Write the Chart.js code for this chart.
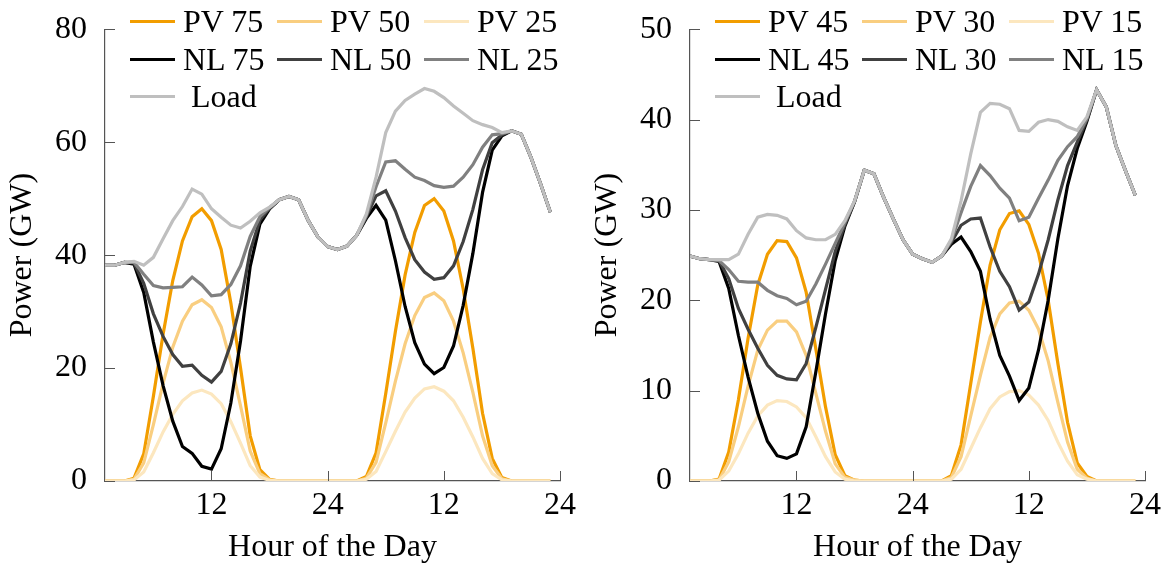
<!DOCTYPE html>
<html>
<head>
<meta charset="utf-8">
<script src="https://cdn.jsdelivr.net/npm/chart.js@4.4.1/dist/chart.umd.min.js"></script>
<style>
  body { margin: 0; background: #fff; width: 1170px; height: 567px; overflow: hidden; font-family: 'Liberation Serif', serif; }
  .panel { position: absolute; top: 0; width: 585px; height: 567px; }
  .panel canvas { position: absolute; left: 0; top: 0; }
  .legend { position: absolute; left: 130px; top: 3px; display: grid; grid-template-columns: repeat(3, 147px); grid-auto-rows: 37.5px; }
  .item { display: flex; align-items: center; font-size: 32px; color: #000; white-space: pre; }
  .swatch { width: 45px; height: 3px; margin-right: 8px; flex: none; }
</style>
</head>
<body>
<div class="panel" style="left:0">
  <canvas id="left" width="585" height="567"></canvas>
  <div class="legend" id="leftLegend"></div>
</div>
<div class="panel" style="left:585px">
  <canvas id="right" width="585" height="567"></canvas>
  <div class="legend" id="rightLegend"></div>
</div>
<script>
// hour index shared by both panels (two days)
const hours = [1, 2, 3, 4, 5, 6, 7, 8, 9, 10, 11, 12, 13, 14, 15, 16, 17, 18, 19, 20, 21, 22, 23, 24,
    25, 26, 27, 28, 29, 30, 31, 32, 33, 34, 35, 36, 37, 38, 39, 40, 41, 42, 43, 44, 45, 46, 47];
const xTickValues = [12, 24, 36, 48];
const xTickLabels = ['12', '24', '12', '24'];

// left panel (GW)
const loadL = [38.2, 38.2, 38.7, 38.9, 38.2, 39.6, 42.9, 46.1, 48.6, 51.7, 50.8, 48.2, 46.7, 45.3, 44.8, 46.0, 47.5, 48.5, 49.8, 50.4,
    49.8, 46.1, 43.2, 41.5, 41.0, 41.6, 43.5, 47.3, 53.8, 61.7, 65.5, 67.4, 68.5, 69.5, 69.0, 67.9, 66.4, 65.1, 63.8, 63.1,
    62.6, 61.7, 62.0, 61.4, 57.3, 52.6, 47.6];
const pv75L = [0, 0, 0, 0.5, 4.8, 15, 26, 35.5, 42.5, 46.8, 48.2, 46.1, 41, 31.5, 20, 8, 2, 0.3, 0, 0,
    0, 0, 0, 0, 0, 0, 0, 0.8, 5, 15.5, 26.5, 36.5, 44, 48.8, 50, 47.8, 42.5, 34, 23.5, 12,
    4, 0.6, 0, 0, 0, 0, 0];
const pv50L = [0, 0, 0, 0.3, 3.2, 10, 17.3, 23.7, 28.3, 31.2, 32.1, 30.7, 27.3, 21, 13.3, 5.3, 1.3, 0.2, 0, 0,
    0, 0, 0, 0, 0, 0, 0, 0.5, 3.3, 10.3, 17.7, 24.3, 29.3, 32.5, 33.3, 31.9, 28.3, 22.7, 15.7, 8,
    2.7, 0.4, 0, 0, 0, 0, 0];
const pv25L = [0, 0, 0, 0.2, 1.6, 5, 8.7, 11.8, 14.2, 15.6, 16.1, 15.4, 13.7, 10.5, 6.7, 2.7, 0.7, 0.1, 0, 0,
    0, 0, 0, 0, 0, 0, 0, 0.3, 1.7, 5.2, 8.8, 12.2, 14.7, 16.3, 16.7, 15.9, 14.2, 11.3, 7.8, 4,
    1.3, 0.2, 0, 0, 0, 0, 0];
const nl75L = [38.2, 38.2, 38.7, 38.4, 33.4, 24.6, 16.9, 10.6, 6.1, 4.9, 2.6, 2.1, 5.7, 13.8, 24.8, 38.0, 45.5, 48.2, 49.8, 50.4,
    49.8, 46.1, 43.2, 41.5, 41.0, 41.6, 43.5, 46.5, 48.8, 46.2, 39.0, 30.9, 24.5, 20.7, 19.0, 20.1, 23.9, 31.1, 40.3, 51.1,
    58.6, 61.1, 62.0, 61.4, 57.3, 52.6, 47.6];
const nl50L = [38.2, 38.2, 38.7, 38.6, 35.0, 29.6, 25.6, 22.4, 20.3, 20.5, 18.7, 17.5, 19.4, 24.3, 31.5, 40.7, 46.2, 48.3, 49.8, 50.4,
    49.8, 46.1, 43.2, 41.5, 41.0, 41.6, 43.5, 46.8, 50.5, 51.4, 47.8, 43.1, 39.2, 37.0, 35.7, 36.0, 38.1, 42.4, 48.1, 55.1,
    59.9, 61.3, 62.0, 61.4, 57.3, 52.6, 47.6];
const nl25L = [38.2, 38.2, 38.7, 38.7, 36.6, 34.6, 34.2, 34.3, 34.4, 36.1, 34.7, 32.8, 33.0, 34.8, 38.1, 43.3, 46.8, 48.4, 49.8, 50.4,
    49.8, 46.1, 43.2, 41.5, 41.0, 41.6, 43.5, 47.0, 52.1, 56.5, 56.7, 55.2, 53.8, 53.2, 52.3, 52.0, 52.2, 53.8, 56.0, 59.1,
    61.3, 61.5, 62.0, 61.4, 57.3, 52.6, 47.6];

// right panel (GW)
const loadR = [24.9, 24.6, 24.5, 24.5, 24.5, 25.1, 27.3, 29.2, 29.5, 29.4, 29.0, 27.7, 26.9, 26.7, 26.7, 27.3, 28.8, 31.0, 34.4, 34.0,
    31.4, 29.0, 26.7, 25.1, 24.6, 24.2, 24.9, 26.8, 31.0, 36.2, 40.8, 41.8, 41.7, 41.2, 38.8, 38.7, 39.7, 40.0, 39.8, 39.2,
    38.8, 40.3, 43.3, 41.4, 37.1, 34.3, 31.6];
const pv45R = [0, 0, 0, 0.2, 3.2, 9, 15.8, 21.7, 25.1, 26.6, 26.5, 24.7, 20.9, 14.6, 8.2, 2.9, 0.6, 0.1, 0, 0,
    0, 0, 0, 0, 0, 0, 0, 0.6, 4, 10.8, 17.6, 23.9, 27.8, 29.6, 29.9, 28.4, 25.2, 20, 13, 6.5,
    2, 0.5, 0, 0, 0, 0, 0];
const pv30R = [0, 0, 0, 0.1, 2.1, 6, 10.5, 14.5, 16.7, 17.7, 17.7, 16.5, 13.9, 9.7, 5.5, 1.9, 0.4, 0.1, 0, 0,
    0, 0, 0, 0, 0, 0, 0, 0.4, 2.7, 7.2, 11.7, 15.9, 18.5, 19.7, 19.9, 18.9, 16.8, 13.3, 8.7, 4.3,
    1.3, 0.3, 0, 0, 0, 0, 0];
const pv15R = [0, 0, 0, 0.1, 1.1, 3, 5.3, 7.2, 8.4, 8.9, 8.8, 8.2, 7, 4.9, 2.7, 1, 0.2, 0, 0, 0,
    0, 0, 0, 0, 0, 0, 0, 0.2, 1.3, 3.6, 5.9, 8, 9.3, 9.9, 10, 9.5, 8.4, 6.7, 4.3, 2.2,
    0.7, 0.2, 0, 0, 0, 0, 0];
const nl45R = [24.9, 24.6, 24.5, 24.3, 21.3, 16.1, 11.5, 7.5, 4.4, 2.8, 2.5, 3.0, 6.0, 12.1, 18.5, 24.4, 28.2, 30.9, 34.4, 34.0,
    31.4, 29.0, 26.7, 25.1, 24.6, 24.2, 24.9, 26.2, 27.0, 25.4, 23.2, 17.9, 13.9, 11.6, 8.9, 10.3, 14.5, 20.0, 26.8, 32.7,
    36.8, 39.8, 43.3, 41.4, 37.1, 34.3, 31.6];
const nl30R = [24.9, 24.6, 24.5, 24.4, 22.4, 19.1, 16.8, 14.7, 12.8, 11.7, 11.3, 11.2, 13.0, 17.0, 21.2, 25.4, 28.4, 30.9, 34.4, 34.0,
    31.4, 29.0, 26.7, 25.1, 24.6, 24.2, 24.9, 26.4, 28.3, 29.0, 29.1, 25.9, 23.2, 21.5, 18.9, 19.8, 22.9, 26.7, 31.1, 34.9,
    37.5, 40.0, 43.3, 41.4, 37.1, 34.3, 31.6];
const nl15R = [24.9, 24.6, 24.5, 24.4, 23.4, 22.1, 22.0, 22.0, 21.1, 20.5, 20.2, 19.5, 19.9, 21.8, 24.0, 26.3, 28.6, 31.0, 34.4, 34.0,
    31.4, 29.0, 26.7, 25.1, 24.6, 24.2, 24.9, 26.6, 29.7, 32.6, 34.9, 33.8, 32.4, 31.3, 28.8, 29.2, 31.3, 33.3, 35.5, 37.0,
    38.1, 40.1, 43.3, 41.4, 37.1, 34.3, 31.6];

const colors = ['#f29d00', '#f9ce80', '#fce7bf', '#000000', '#404040', '#808080', '#bfbfbf'];
const axisColor = '#555555';

Chart.defaults.font.family = "'Liberation Serif', serif";
Chart.defaults.font.size = 32;
Chart.defaults.color = '#000';

// pgfplots style tick marks pointing into the plot
const inwardTicks = {
    id: 'inwardTicks',
    afterDraw(chart) {
        const {ctx, chartArea, scales} = chart;
        ctx.save();
        ctx.strokeStyle = axisColor;
        ctx.lineWidth = 1;
        ctx.beginPath();
        scales.x.ticks.forEach(t => {
            const px = Math.round(scales.x.getPixelForValue(t.value)) + 0.5;
            ctx.moveTo(px, chartArea.bottom);
            ctx.lineTo(px, chartArea.bottom - 10);
        });
        scales.y.ticks.forEach(t => {
            const py = Math.round(scales.y.getPixelForValue(t.value)) + 0.5;
            ctx.moveTo(chartArea.left, py);
            ctx.lineTo(chartArea.left + 10, py);
        });
        ctx.stroke();
        ctx.restore();
    }
};

function buildLegend(id, series) {
    const legend = document.getElementById(id);
    series.forEach((s, i) => {
        const item = document.createElement('div');
        item.className = 'item';
        const sw = document.createElement('span');
        sw.className = 'swatch';
        sw.style.background = colors[i];
        item.appendChild(sw);
        item.appendChild(document.createTextNode(s.label));
        legend.appendChild(item);
    });
}

function makePanel(canvasId, legendId, series, yMax, yStep) {
    buildLegend(legendId, series);
    new Chart(document.getElementById(canvasId), {
        type: 'line',
        data: {
            datasets: series.map((s, i) => ({
                label: s.label,
                data: hours.map((h, k) => ({x: h, y: s.data[k]})),
                borderColor: colors[i],
                borderWidth: 3.2,
                pointRadius: 0,
                tension: 0,
                fill: false,
                order: series.length - 1 - i
            }))
        },
        options: {
            responsive: false,
            animation: false,
            layout: {padding: {top: 28, right: 25, left: 0, bottom: 0}},
            plugins: {legend: {display: false}, tooltip: {enabled: false}},
            scales: {
                x: {
                    type: 'linear',
                    min: 1,
                    max: 48,
                    grid: {display: false},
                    border: {display: true, color: axisColor, width: 1.2},
                    afterBuildTicks: scale => { scale.ticks = xTickValues.map(v => ({value: v})); },
                    afterFit: scale => { scale.height = 86; },
                    ticks: {
                        padding: -3,
                        maxRotation: 0,
                        callback: value => xTickLabels[xTickValues.indexOf(value)]
                    },
                    title: {display: true, text: 'Hour of the Day', padding: {top: 0, bottom: 0}}
                },
                y: {
                    min: 0,
                    max: yMax,
                    grid: {display: false},
                    border: {display: true, color: axisColor, width: 1.2},
                    afterFit: scale => { scale.width = 105; },
                    ticks: {stepSize: yStep, padding: 10},
                    title: {display: true, text: 'Power (GW)', padding: {top: 3, bottom: 0}}
                }
            }
        },
        plugins: [inwardTicks]
    });
}

makePanel('left', 'leftLegend', [
    {label: 'PV 75', data: pv75L},
    {label: 'PV 50', data: pv50L},
    {label: 'PV 25', data: pv25L},
    {label: 'NL 75', data: nl75L},
    {label: 'NL 50', data: nl50L},
    {label: 'NL 25', data: nl25L},
    {label: ' Load', data: loadL}
], 80, 20);

makePanel('right', 'rightLegend', [
    {label: 'PV 45', data: pv45R},
    {label: 'PV 30', data: pv30R},
    {label: 'PV 15', data: pv15R},
    {label: 'NL 45', data: nl45R},
    {label: 'NL 30', data: nl30R},
    {label: 'NL 15', data: nl15R},
    {label: ' Load', data: loadR}
], 50, 10);
</script>
</body>
</html>
